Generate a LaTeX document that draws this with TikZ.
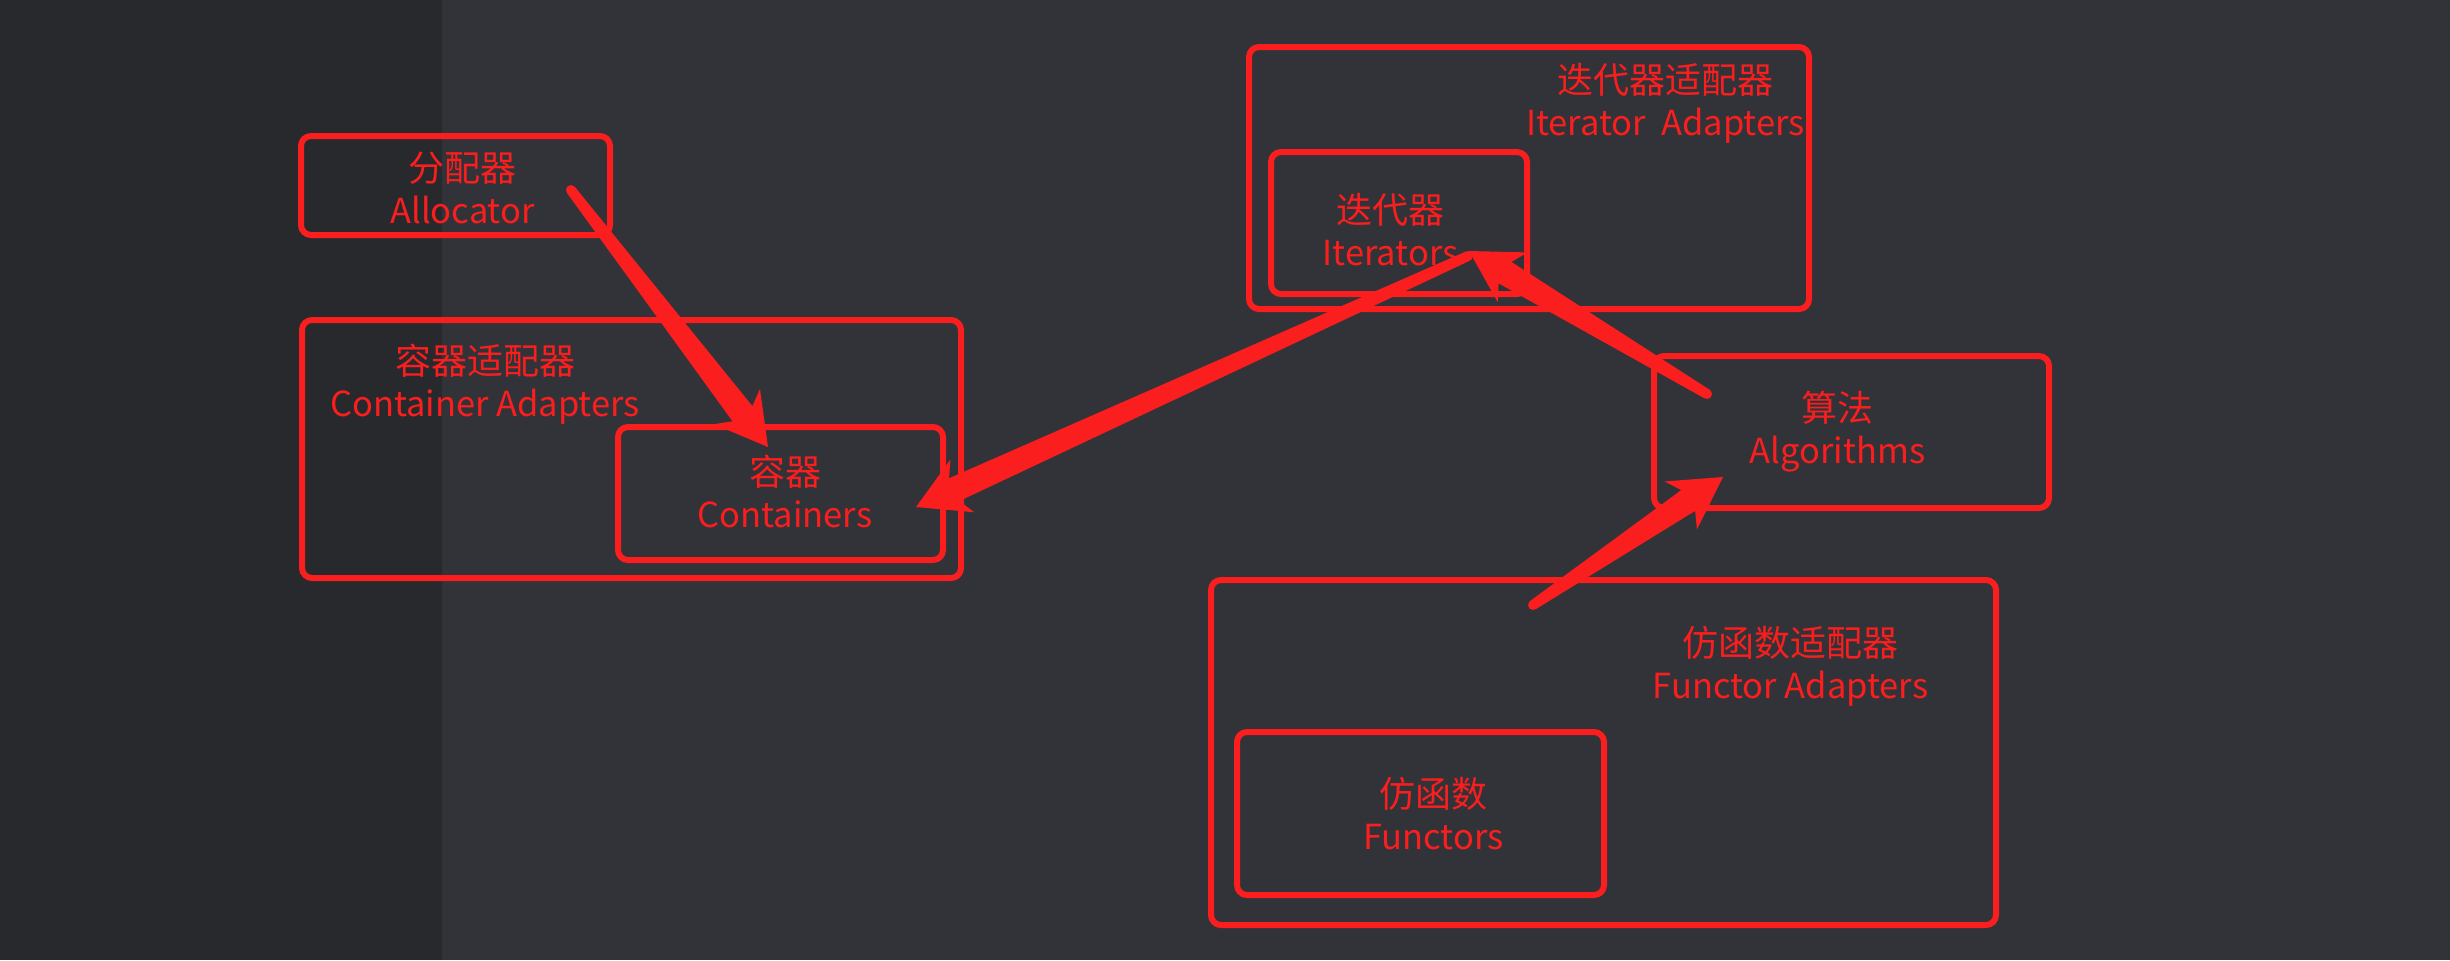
\documentclass[tikz,border=0pt]{standalone}
\usepackage{fontspec}
\setmainfont{Noto Sans CJK SC}
\usetikzlibrary{calc}

\definecolor{bgmain}{RGB}{49,51,56}
\definecolor{bgside}{RGB}{40,41,45}
\definecolor{inkred}{RGB}{250,30,30}

% English line of a caption, set a touch smaller than the Chinese line
\newcommand\enline[1]{{\fontsize{10.35}{12.6}\selectfont #1}}

\tikzset{
  box/.style 2 args={draw=inkred, line width=1.8pt, rounded corners=3pt,
    inner sep=0pt, outer sep=0pt, minimum width=#1, minimum height=#2},
  lbl/.style={text=inkred, align=center, inner sep=0pt,
    font=\fontsize{10.8}{12.6}\selectfont},
}

% hand-drawn style arrow: tapered shaft from #1 with a swept head at #2
\newcommand\skitcharrow[2]{%
  \coordinate (skn) at ($(#2)!12.6pt!(#1)$);
  \coordinate (skb) at ($(#2)!15.3pt!(#1)$);
  \fill[inkred] (#1) circle (1.5pt);
  \fill[inkred]
    ($(#1)!1.5pt!90:(#2)$) -- ($(skn)!3.75pt!90:(#2)$)
    -- ($(skb)!8.7pt!90:(#2)$) -- (#2)
    -- ($(skb)!8.7pt!-90:(#2)$) -- ($(skn)!3.75pt!-90:(#2)$)
    -- ($(#1)!1.5pt!-90:(#2)$) -- cycle;
}

\begin{document}
\begin{tikzpicture}[x=0.3pt, y=-0.3pt]
  % backdrop
  \fill[bgmain] (0,0) rectangle (2450,960);
  \fill[bgside] (0,0) rectangle (442,960);
  \useasboundingbox (0,0) rectangle (2450,960);

  % frames
  \node[box={92.7pt}{29.7pt}]   (alloc) at (455.5,185.5) {};
  \node[box={197.7pt}{77.4pt}]  (cadapt) at (631.5,449) {};
  \node[box={97.5pt}{39.9pt}]   (cont) at (780.5,493.5) {};
  \node[box={168pt}{78.6pt}]    (iadapt) at (1529,178) {};
  \node[box={76.8pt}{42.6pt}]   (iter) at (1399,223) {};
  \node[box={118.5pt}{45.6pt}]  (algo) at (1851.5,432) {};
  \node[box={235.5pt}{103.5pt}] (fadapt) at (1603.5,752.5) {};
  \node[box={110.1pt}{48.9pt}]  (func) at (1420.5,813.5) {};

  % captions
  \node[lbl] (allocT)  at (462.5,187.5)  {分配器\\\enline{Allocator}};
  \node[lbl] (cadaptT) at (485,384)      {容器适配器\\\enline{Container Adapters}};
  \node[lbl] (contT)   at (785,491.5)    {容器\\\enline{Containers}};
  \node[lbl] (iadaptT) at (1665.5,103.5) {迭代器适配器\\\enline{Iterator\ \ Adapters}};
  \node[lbl] (iterT)   at (1390.5,229.5) {迭代器\\\enline{Iterators}};
  \node[lbl] (algoT)   at (1837.5,432)   {算法\\\enline{Algorithms}};
  \node[lbl] (fadaptT) at (1790.5,666)   {仿函数适配器\\\enline{Functor Adapters}};
  \node[lbl] (funcT)   at (1433.5,814)   {仿函数\\\enline{Functors}};

  % arrow end points
  \coordinate (allocOut) at (571,190);
  \coordinate (contIn)   at (768,447);
  \coordinate (iterOut)  at (1468,256);
  \coordinate (contIn2)  at (916,507);
  \coordinate (algoOut)  at (1707,394);
  \coordinate (iterIn)   at (1469,251);
  \coordinate (fadOut)   at (1533,605);
  \coordinate (algoIn)   at (1723,477);

  % arrows
  \skitcharrow{allocOut}{contIn}
  \skitcharrow{iterOut}{contIn2}
  \skitcharrow{algoOut}{iterIn}
  \skitcharrow{fadOut}{algoIn}
\end{tikzpicture}
\end{document}
